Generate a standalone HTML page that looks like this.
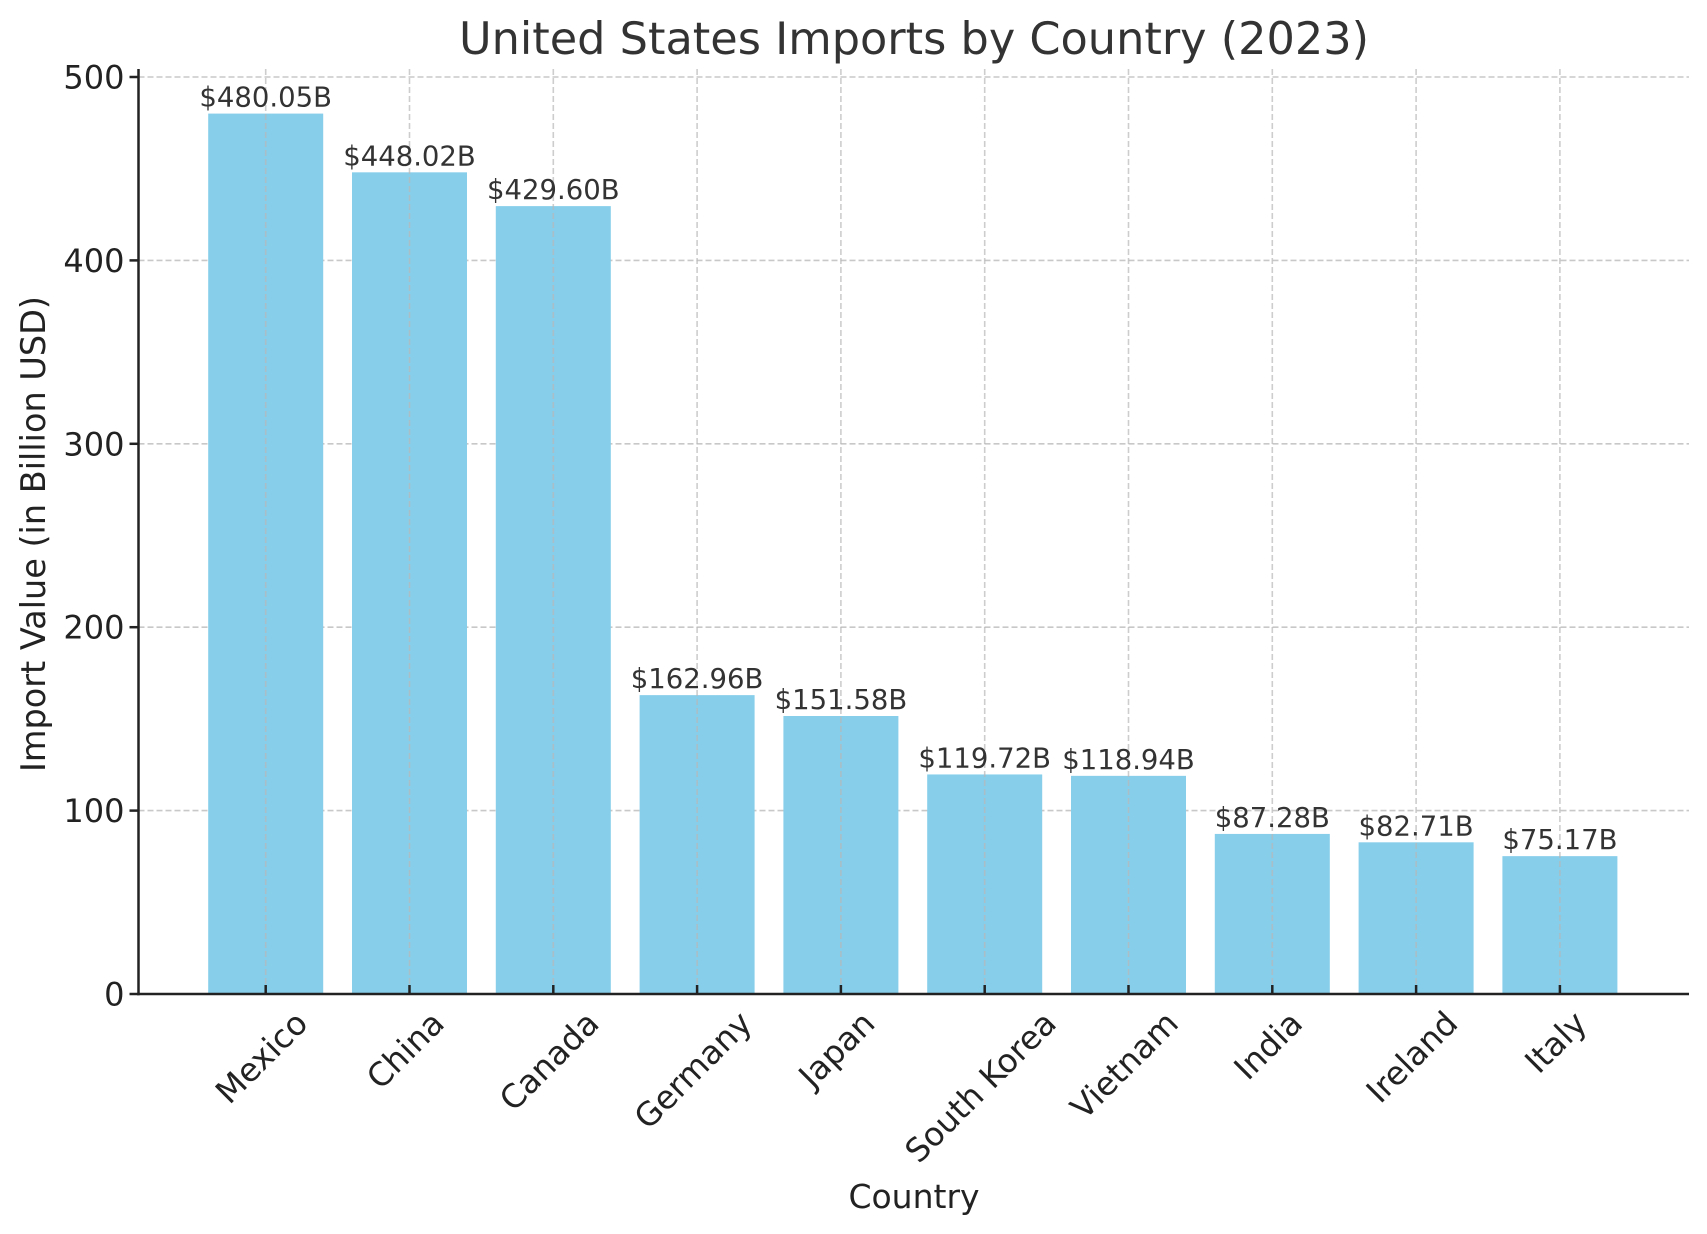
<!DOCTYPE html>
<html><head><meta charset="utf-8"><style>
html,body{margin:0;padding:0;background:#fff;}
svg{display:block;font-family:"DejaVu Sans","Liberation Sans",sans-serif;}
</style></head><body>
<svg id="chart" width="1707" height="1234" viewBox="0 0 1707 1234">
<text x="914" y="54" font-size="44.6" fill="#333" text-anchor="middle">United States Imports by Country (2023)</text>
<g id="grid"></g>
<g id="bars"></g>
<g id="vgrid"></g>
<g id="labels"></g>
<g id="axes"></g>
<text x="914" y="1208" font-size="33" fill="#222" text-anchor="middle">Country</text>
<text transform="translate(45,534) rotate(-90)" font-size="33.5" fill="#222" text-anchor="middle">Import Value (in Billion USD)</text>
</svg>
<script>
const categories = ["Mexico","China","Canada","Germany","Japan","South Korea","Vietnam","India","Ireland","Italy"];
const values = [480.05,448.02,429.60,162.96,151.58,119.72,118.94,87.28,82.71,75.17];
const valueLabels = ["$480.05B","$448.02B","$429.60B","$162.96B","$151.58B","$119.72B","$118.94B","$87.28B","$82.71B","$75.17B"];
const yTicks = [0,100,200,300,400,500];

const NS="http://www.w3.org/2000/svg";
const L=138.5,R=1689,Y0=994,YT=77,TOP=69;
const x0=265.7,step=143.8,bw=115;
function xPos(i){return x0+i*step;}
function yPos(v){return Y0-(v/500)*(Y0-YT);}
function mk(tag,attrs,parent){const e=document.createElementNS(NS,tag);for(const k in attrs)e.setAttribute(k,attrs[k]);parent.appendChild(e);return e;}
const grid=document.getElementById('grid'),bars=document.getElementById('bars'),vgrid=document.getElementById('vgrid'),labels=document.getElementById('labels'),axes=document.getElementById('axes');

yTicks.forEach(t=>{
  const y=yPos(t);
  if(t>0){
    const g=mk('line',{x1:L,x2:R,y1:y,y2:y,stroke:'#c8c8c8','stroke-width':1.6,'stroke-dasharray':'6,3'},grid);
    
    
  }
  const tk=mk('line',{x1:L-9,x2:L,y1:y,y2:y,stroke:'#222','stroke-width':2.5},axes);
  
  
  const tl=mk('text',{x:L-14,y:y+11.5,'font-size':32,fill:'#222','text-anchor':'end'},axes);
  tl.textContent=t;
  
  
});

categories.forEach((c,i)=>{
  const cx=xPos(i),y=yPos(values[i]);
  const b=mk('rect',{x:cx-bw/2,y:y,width:bw,height:Y0-y,fill:'#87CEEB'},bars);
  
  
  const vg=mk('line',{x1:cx,x2:cx,y1:TOP,y2:Y0,stroke:'#b8b8b8','stroke-opacity':0.7,'stroke-width':1.6,'stroke-dasharray':'6,3'},vgrid);
  
  
  const vl=mk('text',{x:cx,y:y-7,'font-size':27.5,fill:'#333','text-anchor':'middle'},labels);
  vl.textContent=valueLabels[i];
  
  
  const tk=mk('line',{x1:cx,x2:cx,y1:Y0,y2:Y0-9,stroke:'#222','stroke-width':2.5},axes);
  
  
  const tl=mk('text',{'font-size':32.5,fill:'#222','text-anchor':'middle','dominant-baseline':'central'},axes);
  tl.textContent=c;
  
  
  const w=tl.getComputedTextLength(),h=32.5;
  const half=(w*0.7071+h*0.7071)/2;
  tl.setAttribute('transform','translate('+(cx-4)+','+(1006+half)+') rotate(-45)');
});

const sp1=mk('line',{x1:L,x2:L,y1:TOP,y2:Y0+1.2,stroke:'#222','stroke-width':2.5},axes);


const sp2=mk('line',{x1:L-1.2,x2:R,y1:Y0,y2:Y0,stroke:'#222','stroke-width':2.5},axes);


</script>
</body></html>
